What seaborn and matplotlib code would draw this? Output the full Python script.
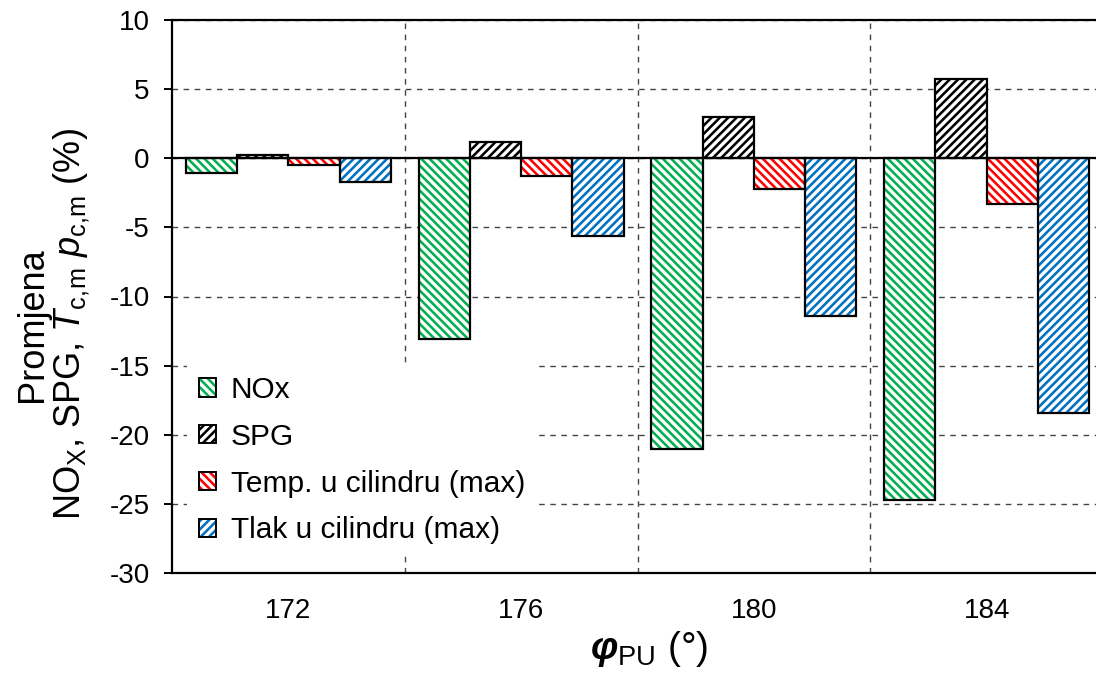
import pandas as pd
import seaborn as sns
import matplotlib.pyplot as plt
from matplotlib.patches import Rectangle, Patch
from matplotlib.legend_handler import HandlerTuple

# data
angles = ["172", "176", "180", "184"]
series = ["NOx", "SPG", "Temp. u cilindru (max)", "Tlak u cilindru (max)"]
nox = [-1.1, -13.1, -21.0, -24.7]
spg = [0.2, 1.2, 3.0, 5.7]
temp = [-0.5, -1.3, -2.2, -3.3]
tlak = [-1.7, -5.6, -11.4, -18.4]

colors = ["#00B050", "#000000", "#FF0000", "#0070C0"]
hatches = ["\\\\\\\\", "////", "\\\\\\\\", "////"]

sns.set_style("white")
plt.rcParams["font.family"] = ["Liberation Sans", "DejaVu Sans"]
plt.rcParams["mathtext.fontset"] = "custom"
plt.rcParams["mathtext.rm"] = "Liberation Sans"
plt.rcParams["mathtext.it"] = "Liberation Sans:italic"
plt.rcParams["mathtext.bfit"] = "Liberation Sans:italic:bold"
plt.rcParams["axes.unicode_minus"] = False
plt.rcParams["hatch.linewidth"] = 2.4
plt.rcParams["text.color"] = "black"
plt.rcParams["axes.labelcolor"] = "black"
plt.rcParams["xtick.color"] = "black"
plt.rcParams["ytick.color"] = "black"

rows = []
for name, vals in zip(series, [nox, spg, temp, tlak]):
    for a, v in zip(angles, vals):
        rows.append({"angle": a, "series": name, "value": v})
df = pd.DataFrame(rows)

fig = plt.figure(figsize=(10.96, 6.79), dpi=100)
ax = fig.add_axes([172 / 1096, 1 - 573 / 679, 931 / 1096, 553 / 679])

sns.barplot(data=df, x="angle", y="value", hue="series", order=angles,
            hue_order=series, palette=colors, width=0.88, legend=False,
            ax=ax, saturation=1)

# white hatch on colored fill, then black outline on top
for cont, col, h in zip(ax.containers, colors, hatches):
    for p in cont:
        p.set_facecolor(col)
        p.set_edgecolor("white")
        p.set_hatch(h)
        p.set_linewidth(0)
        ax.add_patch(Rectangle(p.get_xy(), p.get_width(), p.get_height(),
                               fill=False, edgecolor="black", lw=1.6, zorder=3))

ax.axhline(0, color="black", lw=1.6, zorder=2.5)

ax.set_ylim(-30, 10)
ax.set_xlim(-0.5, 3.5)
ax.set_yticks(range(-30, 11, 5))
ax.set_xticks([0.5, 1.5, 2.5], minor=True)
ax.set_axisbelow(True)
ax.grid(True, which="major", axis="y", color="#444444", ls=(0, (4, 4)), lw=1)
ax.grid(True, which="minor", axis="x", color="#444444", ls=(0, (4, 4)), lw=1)

for s in ax.spines.values():
    s.set_color("black")
    s.set_linewidth(1.6)

ax.tick_params(axis="y", which="major", direction="out", length=6, width=1.4,
               pad=10, labelsize=20, left=True)
ax.tick_params(axis="x", which="both", length=0, pad=18, labelsize=20)

ax.set_ylabel("Promjena\nNO$_\\mathrm{X}$, SPG, $T_\\mathrm{c,\\!m}$ $p_\\mathrm{c,\\!m}$ (%)",
              fontsize=26, linespacing=1.05)
ax.yaxis.set_label_coords(-0.086, 0.45)
ax.set_xlabel("$\\mathbfit{\\varphi}_\\mathrm{PU}$ (°)", fontsize=28)
ax.xaxis.set_label_coords(0.513, -0.102)

handles = []
for col, h in zip(colors, hatches):
    handles.append((Patch(facecolor=col, edgecolor="white", hatch=h, lw=0),
                    Patch(fill=False, edgecolor="black", lw=1.4)))
leg = ax.legend(handles, series, loc="lower left", bbox_to_anchor=(0.0, 0.003),
                handler_map={tuple: HandlerTuple(ndivide=1, pad=0)},
                fontsize=21.5, frameon=True, fancybox=False, framealpha=1,
                edgecolor="none", handlelength=0.57, handleheight=0.57,
                labelspacing=0.63, handletextpad=0.5, borderpad=0.4)
leg.set_zorder(5)

fig.savefig("out.png", dpi=100)
